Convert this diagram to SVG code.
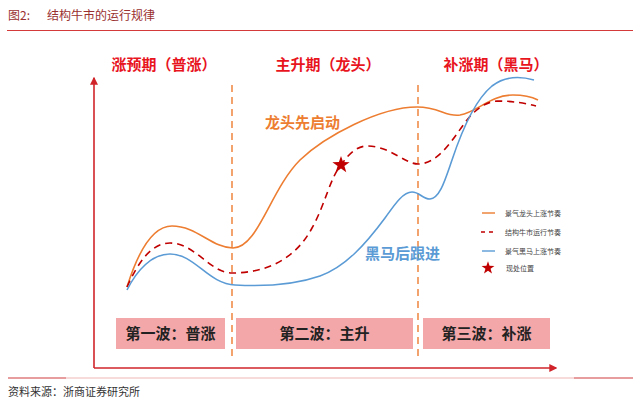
<svg xmlns="http://www.w3.org/2000/svg" width="640" height="405" viewBox="0 0 640 405">
<defs>
<style>
.t{font-family:"Noto Sans CJK SC","Noto Sans",sans-serif}
.hdr{font-size:15px;font-weight:bold;fill:#e8141e}
.wave{font-size:15px;font-weight:bold;fill:#222}
.leg{font-size:7px;fill:#444}
.box{fill:#f4a7a8}
.vd{stroke:#ED7D31;stroke-width:1.4;stroke-dasharray:7,5;fill:none}
.ax{stroke:#d0242a;stroke-width:1.6;fill:none}
.c{fill:none;stroke-width:1.6}
</style>
<marker id="arr" viewBox="0 0 6 6" refX="5" refY="3" markerWidth="5" markerHeight="5" orient="auto"><path d="M0,0 L6,3 L0,6 Z" fill="#d0242a"/></marker>
<path id="star" d="M0,-9 L2.1,-2.9 L8.6,-2.8 L3.4,1.1 L5.3,7.3 L0,3.6 L-5.3,7.3 L-3.4,1.1 L-8.6,-2.8 L-2.1,-2.9 Z" fill="#c00000"/>
</defs>
<rect width="640" height="405" fill="#fff"/>
<g id="title">
<text class="t" x="8" y="20" font-size="12" fill="#9a3030">图2:</text>
<text class="t" x="47" y="20" font-size="12" fill="#9a3030">结构牛市的运行规律</text>
<line x1="7" y1="30.5" x2="633" y2="30.5" stroke="#d43a3a" stroke-width="1"/>
</g>
<g id="headers">
<text class="t hdr" x="164" y="70" text-anchor="middle">涨预期（普涨）</text>
<text class="t hdr" x="328" y="70" text-anchor="middle">主升期（龙头）</text>
<text class="t hdr" x="496" y="70" text-anchor="middle">补涨期（黑马）</text>
</g>
<g id="axes">
<line class="ax" x1="94" y1="368" x2="94" y2="78" marker-end="url(#arr)"/>
<line class="ax" x1="94" y1="368" x2="556" y2="368" marker-end="url(#arr)"/>
</g>
<g id="dividers">
<line class="vd" x1="232" y1="85" x2="232" y2="360"/>
<line class="vd" x1="418" y1="85" x2="418" y2="360"/>
</g>
<g id="connectors">
<path id="orange" class="c" stroke="#ED7D31" d="M127,287 C137,255 152,226 172,226 C197,226 212,248 233,248 C258,248 270,190 300,160 C325,136 380,107 417,107 C440,107 445,117 460,115 C478,112 490,95 513,95 C525,95 532,97 538,100"/>
<path id="dashed" class="c" stroke="#c00000" stroke-dasharray="7,5" d="M127,287 C137,265 150,243 170,243 C195,243 210,273 232,273 C265,273 295,260 312,228 C325,205 330,178 341,165 C350,152 358,146 367,146 C390,146 405,164 418,164 C440,164 455,135 467,120 C475,110 485,102 497,101 C515,101 528,104 536,106"/>
<path id="blue" class="c" stroke="#5B9BD5" d="M127,290 C137,270 152,254 170,254 C195,254 208,284 235,285 C270,287 300,283 320,276 C345,267 365,245 385,218 C395,204 403,192 412,192 C420,192 422,199 430,199 C440,198 445,180 452,160 C462,130 475,100 492,86 C505,76 520,76 534,80"/>
</g>
<g id="star-now"><use href="#star" x="341" y="165"/></g>
<g id="label-longtou"><text class="t" x="265" y="128" font-size="15" font-weight="bold" fill="#ED7D31">龙头先启动</text></g>
<g id="label-heima"><text class="t" x="365" y="259" font-size="15" font-weight="bold" fill="#5B9BD5">黑马后跟进</text></g>
<g id="legend">
<line x1="482" y1="213" x2="495" y2="213" stroke="#ED7D31" stroke-width="1.4"/>
<text class="t leg" x="505" y="215.5">景气龙头上涨节奏</text>
<line x1="481" y1="232" x2="497" y2="232" stroke="#c00000" stroke-width="1.4" stroke-dasharray="4,4"/>
<text class="t leg" x="505" y="234.5">结构牛市运行节奏</text>
<line x1="482" y1="251" x2="495" y2="251" stroke="#5B9BD5" stroke-width="1.4"/>
<text class="t leg" x="505" y="253.5">景气黑马上涨节奏</text>
<use href="#star" transform="translate(488,268) scale(0.75)"/>
<text class="t leg" x="506" y="270.5">现处位置</text>
</g>
<g id="wave1"><rect class="box" x="116" y="318" width="109" height="31"/><text class="t wave" x="170.5" y="339" text-anchor="middle">第一波：普涨</text></g>
<g id="wave2"><rect class="box" x="236" y="318" width="177" height="31"/><text class="t wave" x="324.5" y="339" text-anchor="middle">第二波：主升</text></g>
<g id="wave3"><rect class="box" x="423" y="318" width="127" height="31"/><text class="t wave" x="486.5" y="339" text-anchor="middle">第三波：补涨</text></g>
<g id="footer">
<line x1="8" y1="378" x2="633" y2="378" stroke="#f0b8b8" stroke-width="1.2"/>
<line x1="8" y1="378" x2="66" y2="378" stroke="#d86060" stroke-width="1.2"/>
<line x1="574" y1="378" x2="633" y2="378" stroke="#d86060" stroke-width="1.2"/>
<text class="t" x="8" y="396" font-size="11" fill="#333">资料来源：浙商证券研究所</text>
</g>
</svg>
